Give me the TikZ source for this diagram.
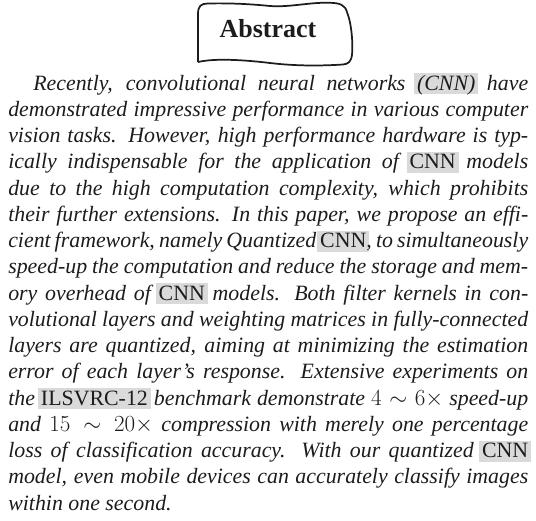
\documentclass[tikz,border=0pt]{standalone}
\usepackage{fontspec}
\setmainfont{Liberation Serif}
\newdimen\upx \upx=0.75pt
\definecolor{hl}{RGB}{218,218,218}
\definecolor{ink}{RGB}{28,28,28}
\newlength\linew \setlength\linew{520\upx}
\newcommand\hlword[1]{\sbox0{#1}\rlap{\hspace{-3\upx}\textcolor{hl}{\rule[-4\upx]{\dimexpr\wd0+6\upx\relax}{21\upx}}}\usebox0}
\newcommand\bodyfont{\fontsize{16.4pt}{19pt}\selectfont\itshape}
\newcommand\jline[1]{\makebox[\linew][s]{#1}}
\tikzset{
  lineS/.style={anchor=base west, inner sep=0pt, font=\bodyfont, text=ink},
  titleS/.style={anchor=base, inner sep=0pt, font=\fontsize{19.5pt}{22pt}\selectfont\bfseries, text=ink},
  boxS/.style={draw=ink, line width=1.3pt, line join=round}
}
\begin{document}
\begin{tikzpicture}[x=0.75pt,y=-0.75pt]
\useasboundingbox (0,0) rectangle (536,521);
% hand-drawn title frame
\draw[boxS] (198,62) -- (198,14) .. controls (198,6) and (201,3.5) .. (208,3.5)
  .. controls (230,3) and (250,4) .. (270,6)
  .. controls (290,7.5) and (310,2) .. (330,2.8)
  .. controls (340,3) and (345,5) .. (347,12)
  .. controls (352,25) and (353,45) .. (352,55)
  .. controls (351,62) and (348,64) .. (343,64.5)
  .. controls (320,66) and (295,66) .. (270,63)
  .. controls (245,60) and (215,58) .. (198,62);
\node[titleS] (title) at (268,37.5) {Abstract};
% body lines
\node[lineS] (l1) at (33,90) {\makebox[495\upx][s]{Recently, convolutional neural networks \hlword{(CNN)} have}};
\node[lineS] (l2) at (8,116.25) {\jline{demonstrated impressive performance in various computer}};
\node[lineS] (l3) at (8,142.5) {\jline{vision tasks. However, high performance hardware is typ-}};
\node[lineS] (l4) at (8,168.75) {\jline{ically indispensable for the application of \hlword{\textup{CNN}} models}};
\node[lineS] (l5) at (8,195) {\jline{due to the high computation complexity, which prohibits}};
\node[lineS] (l6) at (8,221.25) {\jline{their further extensions. In this paper, we propose an effi-}};
\node[lineS] (l7) at (8,247.5) {\jline{cient framework, namely Quantized \hlword{\textup{CNN}}, to simultaneously}};
\node[lineS] (l8) at (8,273.75) {\jline{speed-up the computation and reduce the storage and mem-}};
\node[lineS] (l9) at (8,300) {\jline{ory overhead of \hlword{\textup{CNN}} models. Both filter kernels in con-}};
\node[lineS] (l10) at (8,326.25) {\jline{volutional layers and weighting matrices in fully-connected}};
\node[lineS] (l11) at (8,352.5) {\jline{layers are quantized, aiming at minimizing the estimation}};
\node[lineS] (l12) at (8,378.75) {\jline{error of each layer’s response. Extensive experiments on}};
\node[lineS] (l13) at (8,405) {\jline{the \hlword{\textup{ILSVRC-12}} benchmark demonstrate $4\sim6\times$ speed-up}};
\node[lineS] (l14) at (8,431.25) {\jline{and $15\sim20\times$ compression with merely one percentage}};
\node[lineS] (l15) at (8,457.5) {\jline{loss of classification accuracy. With our quantized \hlword{\textup{CNN}}}};
\node[lineS] (l16) at (8,483.75) {\jline{model, even mobile devices can accurately classify images}};
\node[lineS] (l17) at (8,510) {within one second.};
\end{tikzpicture}
\end{document}
